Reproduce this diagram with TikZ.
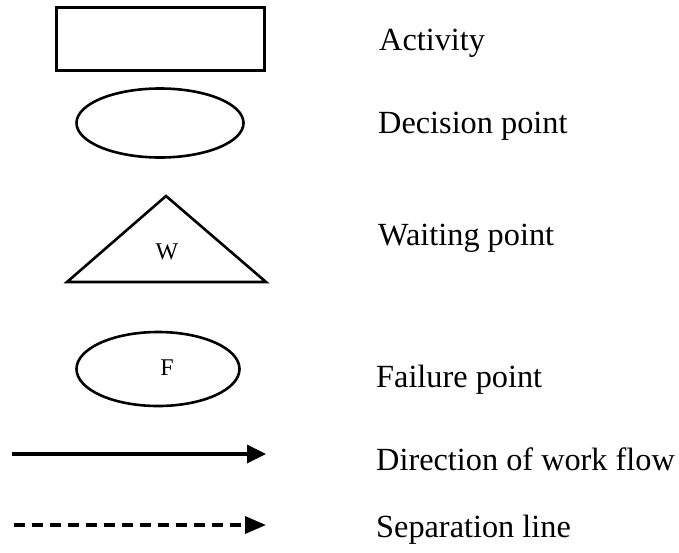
\documentclass[tikz,border=0pt]{standalone}
\usepackage{fontspec}
\setmainfont{Liberation Serif}
\usetikzlibrary{shapes.geometric,arrows.meta}
\begin{document}
\begin{tikzpicture}[x=1pt,y=-1pt,
  shapeline/.style={draw=black,line width=2.6pt},
  legendtext/.style={anchor=base west,inner sep=0pt,font=\fontsize{32.3}{38}\selectfont},
  smalltext/.style={inner sep=0pt,font=\fontsize{24}{28}\selectfont},
  flow/.style={line width=3.4pt,-{Triangle[length=19pt,width=18pt]}},
  sepline/.style={line width=3.4pt,dash pattern=on 11pt off 7pt,-{Triangle[length=21pt,width=17pt]}}]
\useasboundingbox (0,0) rectangle (679,552);
% Activity
\node[shapeline,rectangle,minimum width=208pt,minimum height=63pt,inner sep=0pt] (act) at (160.5,39) {};
% Decision point
\node[shapeline,ellipse,minimum width=167pt,minimum height=69pt,inner sep=0pt] (dec) at (160,123) {};
% Waiting point
\coordinate (wl) at (67,282);
\coordinate (wt) at (166,196);
\coordinate (wr) at (266,282);
\draw[shapeline,line join=miter] (wl) -- (wt) -- (wr) -- cycle;
\node[smalltext] (w) at (167,252) {W};
% Failure point
\node[shapeline,ellipse,minimum width=163pt,minimum height=74pt,inner sep=0pt] (fail) at (158,369) {};
\node[smalltext] (f) at (167,368) {F};
% arrows
\coordinate (a1) at (12,454);
\coordinate (a2) at (266,454);
\draw[flow] (a1) -- (a2);
\coordinate (s1) at (14,525);
\coordinate (s2) at (266,525);
\draw[sepline] (s1) -- (s2);
% labels
\node[legendtext] (la) at (379,50) {Activity};
\node[legendtext] (ld) at (378,133) {Decision point};
\node[legendtext] (lw) at (378,245) {Waiting point};
\node[legendtext] (lf) at (376,387) {Failure point};
\node[legendtext] (lr) at (376,470) {Direction of work flow};
\node[legendtext] (ls) at (376,537) {Separation line};
\end{tikzpicture}
\end{document}
